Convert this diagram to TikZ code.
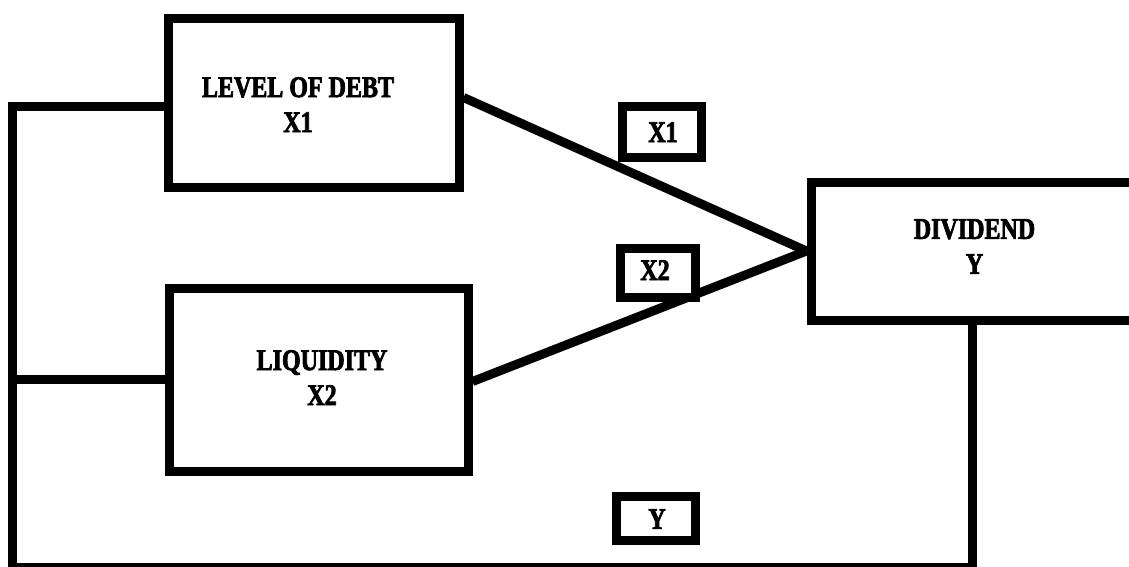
\documentclass[tikz,border=0pt]{standalone}
\usepackage{fontspec}
\newfontfamily\lblfont{Liberation Serif}[FakeStretch=0.8, FakeBold=2.5]
\begin{document}
\begin{tikzpicture}[x=1pt,y=-1pt,
  box/.style={draw=black, line width=9pt, rectangle, inner sep=0pt, fill=white},
  conn/.style={draw=black, line width=9pt},
  txt/.style={font=\lblfont\bfseries\fontsize{30}{35}\selectfont, align=center, inner sep=0pt, text=black}]
\clip (0,0) rectangle (1129,566);
\fill[white] (0,0) rectangle (1129,566);
% main boxes
\node[box, minimum width=291pt, minimum height=169pt] (b1) at (313.5,102.5) {};
\node[box, minimum width=299pt, minimum height=183pt] (b2) at (318.5,379.5) {};
\node[box, minimum width=349pt, minimum height=138pt] (dv) at (985.5,251) {};
% box texts
\node[txt, anchor=north] (t1) at (298,77) {LEVEL OF DEBT\\X1};
\node[txt, anchor=north] (t2) at (322,350) {LIQUIDITY\\X2};
\node[txt, anchor=north] (t3) at (974.5,219) {DIVIDEND\\Y};
% rail coordinates
\coordinate (railtop) at (12,106);
\coordinate (railbot) at (12,567.5);
\coordinate (railend) at (972,567.5);
% connectors
\draw[conn] ([yshift=-3.5pt]b1.west) -- (railtop) -- (railbot) -- (railend) -- (railend |- dv.south);
\draw[conn] (b2.west) -- (b2.west -| railtop);
\draw[conn] ([yshift=5pt]b1.east) -- (dv.west);
\draw[conn] ([yshift=-2pt]b2.east) -- (dv.west);
% small label boxes
\node[box, minimum width=79pt, minimum height=51pt] (l1) at (661.5,131.5) {};
\node[box, minimum width=74.5pt, minimum height=48.5pt] (l2) at (657.75,272.75) {};
\node[box, minimum width=79.5pt, minimum height=44.5pt] (l3) at (655.75,518.25) {};
\node[txt, anchor=north] (x1) at (663,122) {X1};
\node[txt, anchor=north] (x2) at (655,260) {X2};
\node[txt, anchor=north] (y1) at (657,509) {Y};
\end{tikzpicture}
\end{document}
